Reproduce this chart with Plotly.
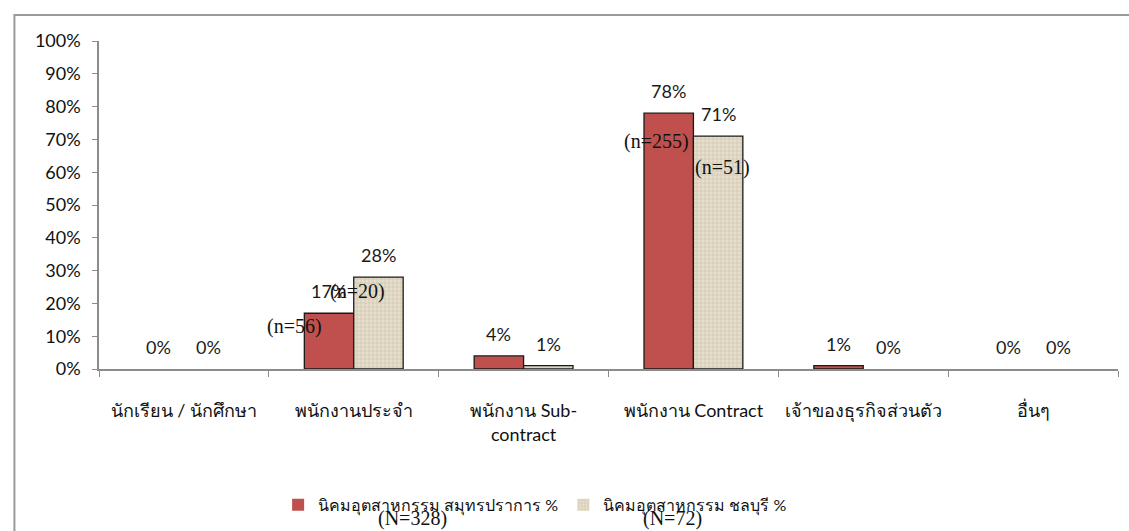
import plotly.graph_objects as go

categories = ["นักเรียน / นักศึกษา", "พนักงานประจำ", "พนักงาน Sub-<br>contract",
              "พนักงาน Contract", "เจ้าของธุรกิจส่วนตัว", "อื่นๆ"]
samutprakan = [0, 17, 4, 78, 1, 0]
chonburi = [0, 28, 1, 71, 0, 0]
series_names = ["นิคมอุตสาหกรรม สมุทรปราการ %", "นิคมอุตสาหกรรม ชลบุรี %"]
series_totals = ["(N=328)", "(N=72)"]
# (category index, label, y position, x offset in px)
count_notes = [(1, "(n=56)", 13, -59), (1, "(n=20)", 23.5, 4),
               (3, "(n=255)", 69.5, -37), (3, "(n=51)", 61.5, 29)]

sans = "Lato, Noto Sans, sans-serif"
serif = "Liberation Serif, Times New Roman, serif"

fig = go.Figure()
fig.add_bar(x=categories, y=samutprakan, name=series_names[0],
            marker=dict(color="#c0504d",
                        line=dict(color="#1a1a1a", width=[0 if v == 0 else 1.3 for v in samutprakan])))
fig.add_bar(x=categories, y=chonburi, name=series_names[1],
            marker=dict(color="#e0d8c4",
                        line=dict(color="#1a1a1a", width=[0 if v == 0 else 1.3 for v in chonburi]),
                        pattern=dict(shape="+", fgcolor="#cfc4aa", bgcolor="#e6dfcd",
                                     size=4, solidity=0.3, fillmode="replace")))

# value labels above each bar (offset by half a bar group)
for values, dx in ((samutprakan, -25), (chonburi, 25)):
    for cat, v in zip(categories, values):
        fig.add_annotation(x=cat, y=v, text=f"{v}%", showarrow=False, xshift=dx,
                           yshift=22, yanchor="middle",
                           font=dict(family=sans, size=18, color="#1a1a1a"))

for ci, txt, yv, dx in count_notes:
    fig.add_annotation(x=categories[ci], y=yv, text=txt, showarrow=False,
                       xshift=dx, font=dict(family=serif, size=20, color="#111"))

for xp, txt in zip([0.308, 0.563], series_totals):
    fig.add_annotation(x=xp, y=-0.456, xref="paper", yref="paper", text=txt,
                       xanchor="center", yanchor="middle", showarrow=False,
                       font=dict(family=serif, size=20, color="#111"))

# outer chart frame
fig.add_shape(type="rect", xref="paper", yref="paper", x0=-0.083, y0=-0.6,
              x1=1.1, y1=1.079, line=dict(color="#9a9a9a", width=2), layer="below")

fig.update_layout(
    width=1129, height=531,
    margin=dict(l=99, r=11, t=41, b=161),
    paper_bgcolor="white", plot_bgcolor="white",
    barmode="group", bargap=0.418, bargroupgap=0,
    showlegend=True,
    legend=dict(orientation="h", x=0.428, xanchor="center", y=-0.41, yanchor="middle",
                font=dict(family=sans, size=16, color="#111"),
                itemwidth=30, traceorder="normal"),
    font=dict(family=sans, color="#111"),
    xaxis=dict(showline=True, linecolor="#8c8c8c", linewidth=1.5, ticks="outside",
               tickson="boundaries", ticklen=6, tickcolor="#8c8c8c", showgrid=False,
               tickfont=dict(size=18, color="#111"), ticklabelstandoff=25),
    yaxis=dict(range=[0, 100], dtick=10, ticksuffix="%", showline=True,
               linecolor="#8c8c8c", linewidth=1.5, ticks="outside", ticklen=5,
               tickcolor="#8c8c8c", showgrid=False, zeroline=False,
               tickfont=dict(size=18, color="#111"), ticklabelstandoff=8),
)

fig.write_html("out.html")
